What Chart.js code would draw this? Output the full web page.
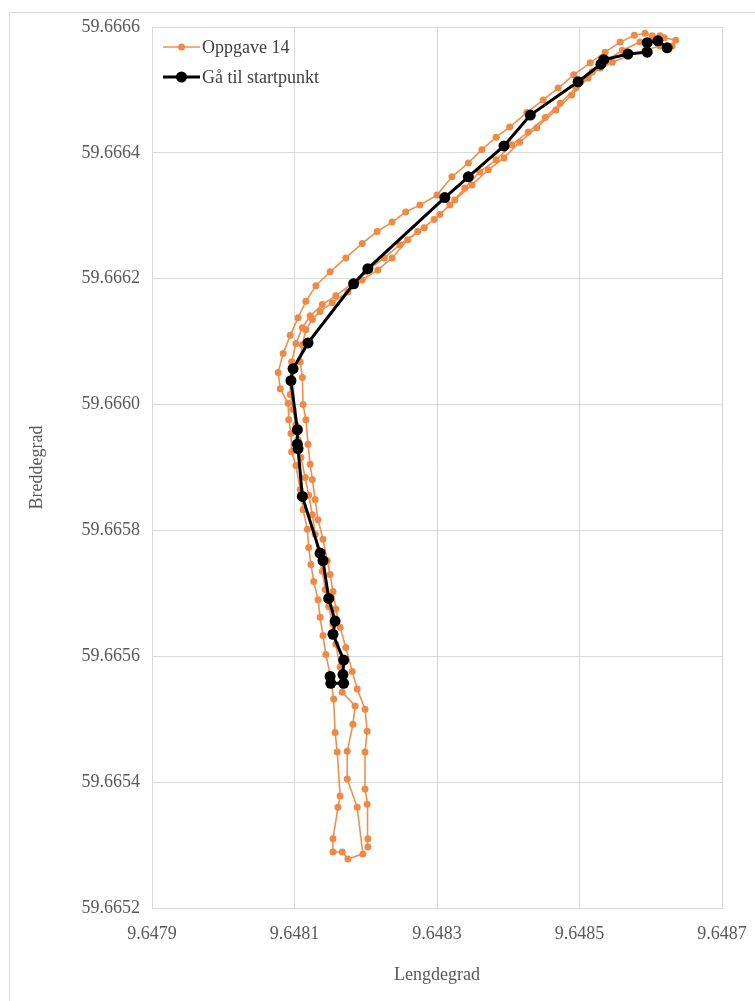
<!DOCTYPE html>
<html><head><meta charset="utf-8">
<script src="https://cdn.jsdelivr.net/npm/chart.js@4/dist/chart.umd.min.js"></script>
<style>html,body{margin:0;padding:0;background:#fff;}#wrap{position:relative;width:755px;height:1001px;}</style>
</head><body><div id="wrap"><canvas id="c" width="755" height="1001"></canvas></div>
<script>
const seriesNames = ['Oppgave 14', 'Gå til startpunkt'];
const xTitle = 'Lengdegrad';
const yTitle = 'Breddegrad';
const xTickValues = [9.6479, 9.6481, 9.6483, 9.6485, 9.6487];
const yTickValues = [59.6652, 59.6654, 59.6656, 59.6658, 59.6660, 59.6662, 59.6664, 59.6666];

// Oppgave 14 – lap up the right side
const lapUpLon = [9.648203, 9.648203, 9.648202, 9.648199, 9.648199, 9.648202, 9.648199, 9.648188, 9.648181, 9.648172, 9.648164, 9.648158, 9.648154, 9.648150, 9.648146, 9.648140, 9.648133, 9.648129, 9.648125, 9.648122, 9.648119, 9.648116, 9.648112, 9.648111, 9.648108, 9.648111, 9.648116, 9.648125, 9.648136, 9.648153, 9.648175, 9.648195, 9.648217, 9.648237, 9.648259, 9.648282, 9.648304, 9.648325, 9.648349, 9.648372, 9.648394, 9.648416, 9.648440, 9.648467, 9.648489, 9.648512, 9.648529, 9.648546, 9.648568, 9.648592, 9.648613, 9.648630, 9.648635, 9.648619, 9.648602, 9.648592, 9.648577];
const lapUpLat = [59.665297, 59.665310, 59.665365, 59.665389, 59.665448, 59.665481, 59.665516, 59.665548, 59.665576, 59.665614, 59.665646, 59.665675, 59.665703, 59.665730, 59.665752, 59.665786, 59.665817, 59.665849, 59.665881, 59.665905, 59.665937, 59.665976, 59.666000, 59.666043, 59.666068, 59.666095, 59.666119, 59.666135, 59.666148, 59.666162, 59.666179, 59.666198, 59.666214, 59.666233, 59.666262, 59.666281, 59.666302, 59.666325, 59.666349, 59.666373, 59.666392, 59.666417, 59.666440, 59.666468, 59.666492, 59.666519, 59.666535, 59.666544, 59.666554, 59.666563, 59.666570, 59.666570, 59.666579, 59.666583, 59.666586, 59.666590, 59.666587];
// Oppgave 14 – lap down the left side
const lapDownLon = [9.648557, 9.648536, 9.648515, 9.648492, 9.648470, 9.648449, 9.648426, 9.648402, 9.648383, 9.648363, 9.648344, 9.648321, 9.648300, 9.648276, 9.648256, 9.648237, 9.648216, 9.648195, 9.648172, 9.648150, 9.648130, 9.648116, 9.648105, 9.648094, 9.648084, 9.648077, 9.648080, 9.648091, 9.648092, 9.648095, 9.648096, 9.648102, 9.648108, 9.648112, 9.648118, 9.648120, 9.648123, 9.648127, 9.648133, 9.648136, 9.648140, 9.648144, 9.648150, 9.648155, 9.648157, 9.648160, 9.648164, 9.648161, 9.648154, 9.648154, 9.648167, 9.648175, 9.648196];
const lapDownLat = [59.666576, 59.666560, 59.666543, 59.666524, 59.666503, 59.666484, 59.666464, 59.666441, 59.666425, 59.666405, 59.666384, 59.666362, 59.666333, 59.666317, 59.666306, 59.666290, 59.666275, 59.666256, 59.666233, 59.666211, 59.666189, 59.666164, 59.666138, 59.666110, 59.666081, 59.666051, 59.666025, 59.666002, 59.665976, 59.665954, 59.665925, 59.665903, 59.665865, 59.665833, 59.665802, 59.665773, 59.665746, 59.665719, 59.665690, 59.665662, 59.665633, 59.665603, 59.665571, 59.665532, 59.665479, 59.665448, 59.665378, 59.665360, 59.665310, 59.665289, 59.665289, 59.665278, 59.665286];
// Oppgave 14 – lap up the middle
const lapMidLon = [9.648188, 9.648174, 9.648174, 9.648182, 9.648185, 9.648167, 9.648164, 9.648158, 9.648154, 9.648148, 9.648143, 9.648139, 9.648133, 9.648129, 9.648125, 9.648120, 9.648115, 9.648109, 9.648105, 9.648102, 9.648098, 9.648094, 9.648094, 9.648096, 9.648102, 9.648111, 9.648122, 9.648139, 9.648158, 9.648181, 9.648200, 9.648226, 9.648248, 9.648273, 9.648296, 9.648318, 9.648339, 9.648360, 9.648383, 9.648405, 9.648428, 9.648452, 9.648473, 9.648495, 9.648518, 9.648540, 9.648560, 9.648585, 9.648602, 9.648613];
const lapMidLat = [59.665360, 59.665405, 59.665449, 59.665492, 59.665521, 59.665543, 59.665583, 59.665619, 59.665651, 59.665679, 59.665706, 59.665735, 59.665762, 59.665794, 59.665825, 59.665856, 59.665884, 59.665916, 59.665944, 59.665968, 59.665992, 59.666016, 59.666040, 59.666068, 59.666097, 59.666122, 59.666141, 59.666159, 59.666173, 59.666192, 59.666211, 59.666233, 59.666254, 59.666275, 59.666294, 59.666317, 59.666344, 59.666370, 59.666389, 59.666413, 59.666433, 59.666456, 59.666479, 59.666503, 59.666529, 59.666548, 59.666563, 59.666576, 59.666583, 59.666586];

// Gå til startpunkt
const startLon = [9.648623, 9.648610, 9.648595, 9.648595, 9.648568, 9.648534, 9.648530, 9.648498, 9.648431, 9.648394, 9.648344, 9.648311, 9.648203, 9.648183, 9.648119, 9.648098, 9.648095, 9.648104, 9.648104, 9.648105, 9.648111, 9.648136, 9.648140, 9.648148, 9.648157, 9.648154, 9.648169, 9.648168, 9.648169, 9.648151, 9.648150];
const startLat = [59.666567, 59.666578, 59.666575, 59.666560, 59.666557, 59.666548, 59.666541, 59.666513, 59.666460, 59.666411, 59.666362, 59.666329, 59.666216, 59.666192, 59.666098, 59.666057, 59.666038, 59.665960, 59.665937, 59.665930, 59.665854, 59.665764, 59.665752, 59.665692, 59.665656, 59.665635, 59.665594, 59.665571, 59.665557, 59.665557, 59.665568];

function pts(lon, lat) {
  const n = Math.min(lon.length, lat.length);
  const out = [];
  for (let i = 0; i < n; i++) out.push({x: lon[i], y: lat[i]});
  return out;
}
const oppgavePts = [].concat(pts(lapUpLon, lapUpLat), pts(lapDownLon, lapDownLat), pts(lapMidLon, lapMidLat));
const startPts = pts(startLon, startLat);

const GRID = '#d9d9d9';
const TICK = '#595959';
const SERIF = '"Liberation Serif", "Times New Roman", serif';

const framePlugin = {
  id: 'frame',
  beforeDraw(chart) {
    const ctx = chart.ctx;
    ctx.save();
    ctx.fillStyle = '#fff';
    ctx.fillRect(0, 0, chart.width, chart.height);
    ctx.strokeStyle = '#d9d9d9';
    ctx.lineWidth = 1;
    ctx.beginPath();
    ctx.moveTo(9.5, chart.height);
    ctx.lineTo(9.5, 12.5);
    ctx.lineTo(chart.width, 12.5);
    ctx.stroke();
    ctx.restore();
  }
};

const legendPlugin = {
  id: 'insideLegend',
  afterDatasetsDraw(chart) {
    const ctx = chart.ctx;
    const area = chart.chartArea;
    const order = [1, 0];
    ctx.save();
    order.forEach((di, row) => {
      const ds = chart.data.datasets[di];
      const y = area.top + 20 + row * 30;
      const x0 = area.left + 11, x1 = area.left + 48;
      ctx.strokeStyle = ds.borderColor;
      ctx.lineWidth = ds.borderWidth;
      ctx.beginPath();
      ctx.moveTo(x0, y);
      ctx.lineTo(x1, y);
      ctx.stroke();
      ctx.fillStyle = ds.pointBackgroundColor;
      ctx.beginPath();
      ctx.arc((x0 + x1) / 2, y, ds.pointRadius, 0, Math.PI * 2);
      ctx.fill();
      ctx.fillStyle = '#404040';
      ctx.font = '18px ' + SERIF;
      ctx.textBaseline = 'middle';
      ctx.textAlign = 'left';
      ctx.fillText(ds.label, x1 + 2, y + 1);
    });
    ctx.restore();
  }
};

new Chart(document.getElementById('c'), {
  type: 'scatter',
  data: {
    datasets: [
      {
        label: seriesNames[1],
        data: startPts,
        showLine: true,
        borderColor: '#000000',
        backgroundColor: '#000000',
        pointBackgroundColor: '#000000',
        pointBorderColor: '#000000',
        borderWidth: 3,
        pointRadius: 5.5,
        pointBorderWidth: 0,
        order: 0
      },
      {
        label: seriesNames[0],
        data: oppgavePts,
        showLine: true,
        borderColor: 'rgba(237,125,49,0.85)',
        backgroundColor: '#ED7D31',
        pointBackgroundColor: '#EE8A45',
        pointBorderColor: '#EE8A45',
        borderWidth: 1.6,
        pointRadius: 3.5,
        pointBorderWidth: 0,
        order: 1
      }
    ]
  },
  options: {
    responsive: false,
    animation: false,
    layout: {padding: {top: 27, right: 33, bottom: 0, left: 0}},
    plugins: {legend: {display: false}, tooltip: {enabled: false}},
    scales: {
      x: {
        type: 'linear',
        min: xTickValues[0],
        max: xTickValues[xTickValues.length - 1],
        afterBuildTicks: s => { s.ticks = xTickValues.map(v => ({value: v})); },
        afterFit: s => { s.height = 93; s.paddingLeft = 0; s.paddingRight = 0; },
        grid: {color: GRID, lineWidth: 1, drawTicks: false},
        border: {color: GRID},
        ticks: {
          padding: 15, color: TICK, font: {family: SERIF, size: 18},
          maxRotation: 0, autoSkip: false,
          callback: v => Number(v).toFixed(4)
        },
        title: {display: true, text: xTitle, color: TICK, font: {family: SERIF, size: 18}, padding: {top: 0, bottom: 15}}
      },
      y: {
        type: 'linear',
        min: yTickValues[0],
        max: yTickValues[yTickValues.length - 1],
        afterBuildTicks: s => { s.ticks = yTickValues.map(v => ({value: v})); },
        afterFit: s => { s.width = 152; s.paddingTop = 0; s.paddingBottom = 0; },
        grid: {color: GRID, lineWidth: 1, drawTicks: false},
        border: {color: GRID},
        ticks: {
          padding: 12, color: TICK, font: {family: SERIF, size: 18},
          autoSkip: false,
          callback: v => Number(v).toFixed(4)
        },
        title: {display: true, text: yTitle, color: TICK, font: {family: SERIF, size: 18}, padding: {top: 26, bottom: 0}}
      }
    }
  },
  plugins: [framePlugin, legendPlugin]
});
</script>
</body></html>
